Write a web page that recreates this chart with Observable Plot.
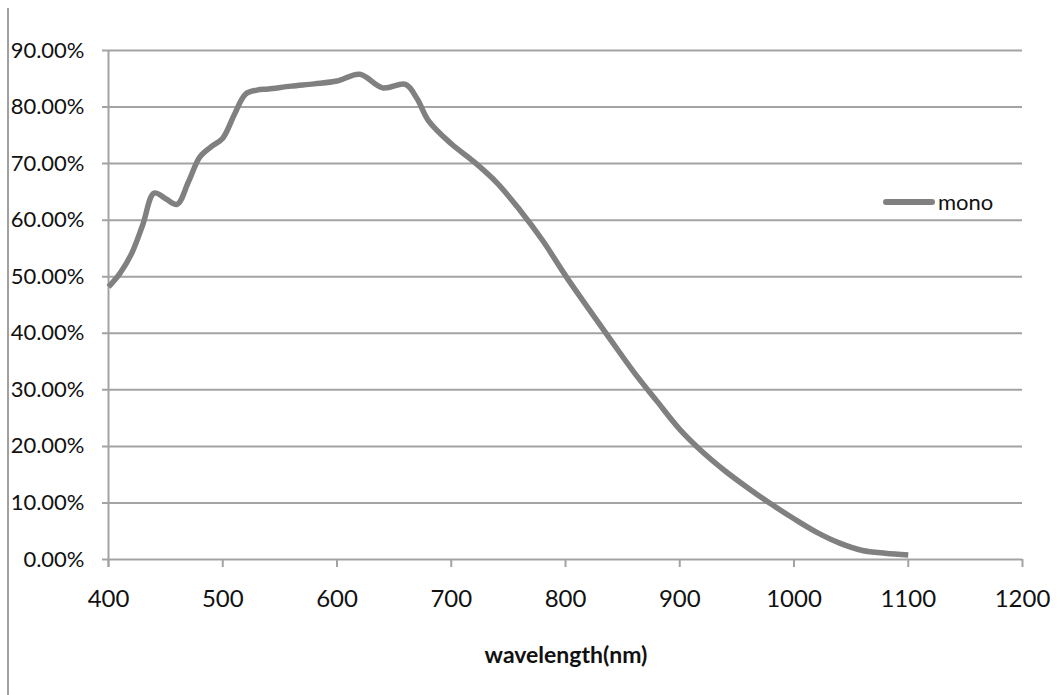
<!DOCTYPE html>
<html><head><meta charset="utf-8">
<script src="https://cdn.jsdelivr.net/npm/d3@7"></script>
<script src="https://cdn.jsdelivr.net/npm/@observablehq/plot@0.6"></script>
<style>
body{margin:0;background:#fff;}
#wrap{position:relative;width:1059px;height:695px;overflow:hidden;background:#fff;}
#border{position:absolute;left:7px;top:8px;width:2px;height:687px;background:#a0a0a0;}
#legend{position:absolute;left:883px;top:188px;font-family:Lato,sans-serif;font-size:22px;color:#111;display:flex;align-items:center;}
#legend .sw{display:inline-block;width:52px;height:6px;background:#808080;border-radius:3px;margin-right:3px;}
#xlabel{position:absolute;left:0;width:1132px;top:640px;text-align:center;font-family:Lato,sans-serif;font-weight:bold;font-size:23px;color:#111;}
#chart{position:absolute;left:0;top:0;}
</style></head><body>
<div id="wrap"><div id="border"></div><div id="chart"></div>
<div id="legend"><span class="sw"></span><span id="legname"></span></div>
<div id="xlabel"></div></div>
<script>
const wavelength = [400,410,420,430,440,450,460,470,480,490,500,510,520,530,540,560,580,600,620,640,660,670,680,700,720,740,760,780,800,820,840,860,880,900,920,940,960,980,1000,1020,1040,1060,1080,1100];
const mono = [48.2,50.6,54.0,59.2,64.8,63.8,62.8,66.8,71.2,73.0,74.5,78.6,82.3,83.0,83.2,83.7,84.1,84.6,85.8,83.4,84.0,81.5,77.6,73.5,70.3,66.6,61.8,56.4,50.2,44.4,38.7,33.1,28.0,23.0,19.0,15.6,12.6,9.8,7.2,4.8,2.9,1.6,1.1,0.8];
const xTicks = [400,500,600,700,800,900,1000,1100,1200];
const yTicks = [0,10,20,30,40,50,60,70,80,90];
const seriesName = "mono";
const xLabel = "wavelength(nm)";

const data = wavelength.map((w, i) => ({w, v: mono[i]}));
const gridColor = "#a3a3a3";

const chart = Plot.plot({
  width: 1059, height: 695,
  marginLeft: 108, marginRight: 37, marginTop: 50, marginBottom: 136,
  style: {fontFamily: "Lato, sans-serif", color: "#111", background: "transparent"},
  x: {domain: [400, 1200]},
  y: {domain: [0, 90]},
  marks: [
    Plot.ruleY(yTicks, {stroke: gridColor, strokeWidth: 2, insetLeft: -6}),
    Plot.ruleX([400], {stroke: gridColor, strokeWidth: 2, insetBottom: -8}),
    Plot.axisX({ticks: xTicks, tickSize: 8, tickPadding: 22, stroke: gridColor, strokeWidth: 2, fill: "#111", fontSize: 24, label: null, tickFormat: d => String(d)}),
    Plot.axisY({ticks: yTicks, tickSize: 0, tickPadding: 24, fill: "#111", fontSize: 22, label: null, tickFormat: d => d.toFixed(2) + "%"}),
    Plot.line(data, {x: "w", y: "v", stroke: "#808080", strokeWidth: 5.5, curve: "catmull-rom", strokeLinejoin: "round", strokeLinecap: "butt"})
  ]
});
document.getElementById("chart").appendChild(chart);
document.getElementById("legname").textContent = seriesName;
document.getElementById("xlabel").textContent = xLabel;
</script>
</body></html>
